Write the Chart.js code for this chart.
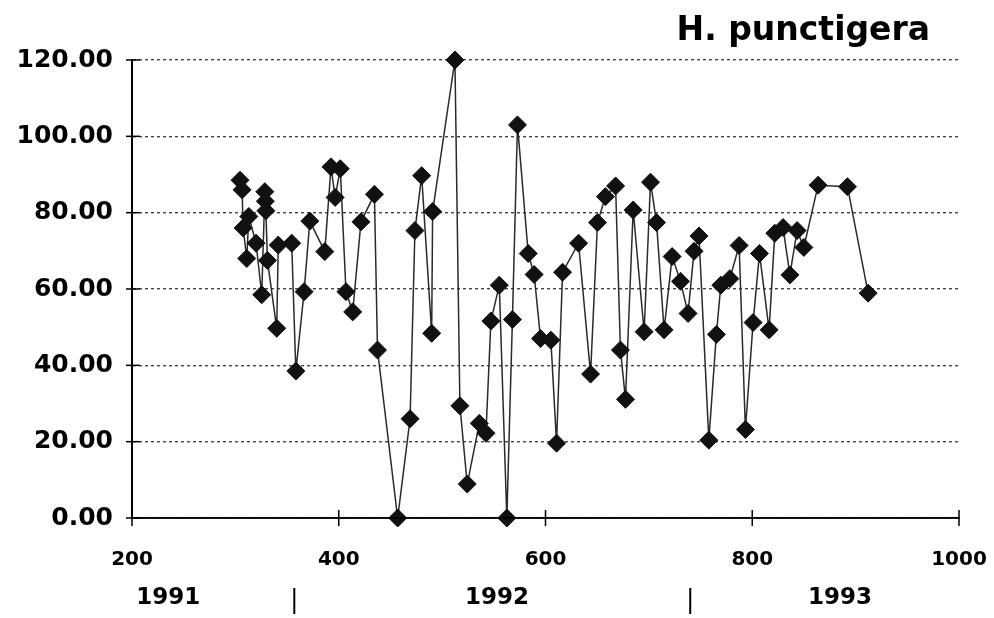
<!DOCTYPE html>
<html><head><meta charset="utf-8">
<script src="https://cdn.jsdelivr.net/npm/chart.js@4/dist/chart.umd.min.js"></script>
<style>html,body{margin:0;padding:0;background:#fff}#wrap{width:994px;height:618px}</style>
</head><body><div id="wrap"><canvas id="c" width="994" height="618"></canvas></div>
<script>
const chartTitle = 'H. punctigera';
const dayValues = [304.5,306.5,307.5,311,313,320,325.5,328.5,329,329.5,331,340,341.5,354.5,358.5,366.5,372,386.5,392.5,396.5,401.5,407,413.5,421.5,434.5,437.5,
  457,469,473.7,480.2,489.9,490.8,512.4,517.2,524.3,536,542.4,547.2,555.3,562.6,568,572.9,583.3,589,595.2,605.2,610.7,616.5,632,643.6,650.3,658,667.8,672.5,677.4,684.8,695.4,701.6,707.4,714.7,722.5,730.6,737.9,743.7,748.5,758,765.3,769.6,778.3,787.3,793.4,800.8,807,816.3,821.8,829.8,836.4,843.4,849.9,863.7,892.1,912.1];
const catchValues = [88.5,86,76,68,79,72,58.5,85.5,83,80.5,67.5,49.7,71.5,72,38.5,59.3,77.8,69.8,92,84,91.5,59.3,54,77.6,84.8,44,
  0,26,75.3,89.7,48.4,80.3,120,29.4,8.9,24.8,22.2,51.6,61,0,52,103,69.3,63.8,47,46.6,19.6,64.4,72,37.7,77.4,84.2,87,44,31.1,80.7,48.8,88,77.4,49.3,68.5,62,53.6,69.9,73.9,20.4,48.1,61,62.7,71.4,23.2,51.2,69.3,49.3,74.6,76.1,63.7,75.3,70.9,87.2,86.8,58.9];
const xTickValues = [200,400,600,800,1000];
const yTickValues = [0,20,40,60,80,100,120];
const yearLabels = ['1991','1992','1993'];
const yearCenters = [235,553,885];
const yearBreaks = [357,740];

const points = dayValues.map((d,i)=>({x:d,y:catchValues[i]}));

const extras = {
  id:'extras',
  afterDraw(chart){
    const ctx = chart.ctx, xs = chart.scales.x, ys = chart.scales.y;
    const L = xs.left, R = xs.right, T = ys.top, B = ys.bottom;
    ctx.save();
    ctx.setLineDash([]);
    ctx.strokeStyle = '#000';
    ctx.lineWidth = 2;
    ctx.beginPath(); ctx.moveTo(L, T); ctx.lineTo(L, B); ctx.stroke();
    ctx.lineWidth = 1.6;
    ctx.beginPath(); ctx.moveTo(L, B); ctx.lineTo(R, B); ctx.stroke();
    ctx.lineWidth = 1.5;
    yTickValues.forEach(v=>{
      const py = ys.getPixelForValue(v);
      ctx.beginPath(); ctx.moveTo(L-6, py); ctx.lineTo(L+8, py); ctx.stroke();
    });
    xTickValues.forEach(v=>{
      const px = xs.getPixelForValue(v);
      ctx.beginPath(); ctx.moveTo(px, B-8); ctx.lineTo(px, B+8); ctx.stroke();
    });
    ctx.fillStyle = '#000';
    ctx.font = 'bold 23px "DejaVu Sans"';
    ctx.textAlign = 'center'; ctx.textBaseline = 'middle';
    yearLabels.forEach((t,i)=>{
      ctx.fillText(t, xs.getPixelForValue(yearCenters[i]), 598);
    });
    ctx.lineWidth = 2;
    yearBreaks.forEach(b=>{
      const px = xs.getPixelForValue(b);
      ctx.beginPath(); ctx.moveTo(px, 588); ctx.lineTo(px, 614); ctx.stroke();
    });
    ctx.font = 'bold 33px "DejaVu Sans"';
    ctx.textAlign = 'right'; ctx.textBaseline = 'middle';
    ctx.fillText(chartTitle, 930, 31);
    ctx.restore();
  }
};

new Chart(document.getElementById('c'), {
  type:'line',
  data:{datasets:[{
    data:points,
    borderColor:'#2a2a2a', borderWidth:1.5,
    pointStyle:'rectRot', pointRadius:9, pointHoverRadius:9,
    pointBackgroundColor:'#111', pointBorderColor:'#111', pointBorderWidth:1,
    tension:0, clip:false
  }]},
  options:{
    responsive:false, animation:false, devicePixelRatio:1,
    layout:{padding:{top:60,right:35,left:0,bottom:0}, autoPadding:false},
    plugins:{legend:{display:false}, tooltip:{enabled:false}, title:{display:false}},
    scales:{
      x:{type:'linear', min:200, max:1000,
        afterBuildTicks:s=>{s.ticks = xTickValues.map(v=>({value:v}));},
        afterFit:s=>{s.height=100; s.paddingLeft=0; s.paddingRight=0;},
        ticks:{color:'#000', padding:30, maxRotation:0, callback:v=>String(v), font:{family:'"DejaVu Sans"', weight:'bold', size:20}},
        grid:{drawOnChartArea:false, drawTicks:false},
        border:{color:'#000', width:1.5}},
      y:{min:0, max:120,
        afterBuildTicks:s=>{s.ticks = yTickValues.map(v=>({value:v}));},
        afterFit:s=>{s.width=132; s.paddingTop=0; s.paddingBottom=0;},
        ticks:{color:'#000', padding:19, callback:v=>Number(v).toFixed(2), font:{family:'"DejaVu Sans"', weight:'bold', size:25}},
        grid:{color:'#444', lineWidth:1.4, drawTicks:false},
        border:{color:'#000', width:2, dash:[3,3]}}
    }
  },
  plugins:[extras]
});
</script></body></html>
